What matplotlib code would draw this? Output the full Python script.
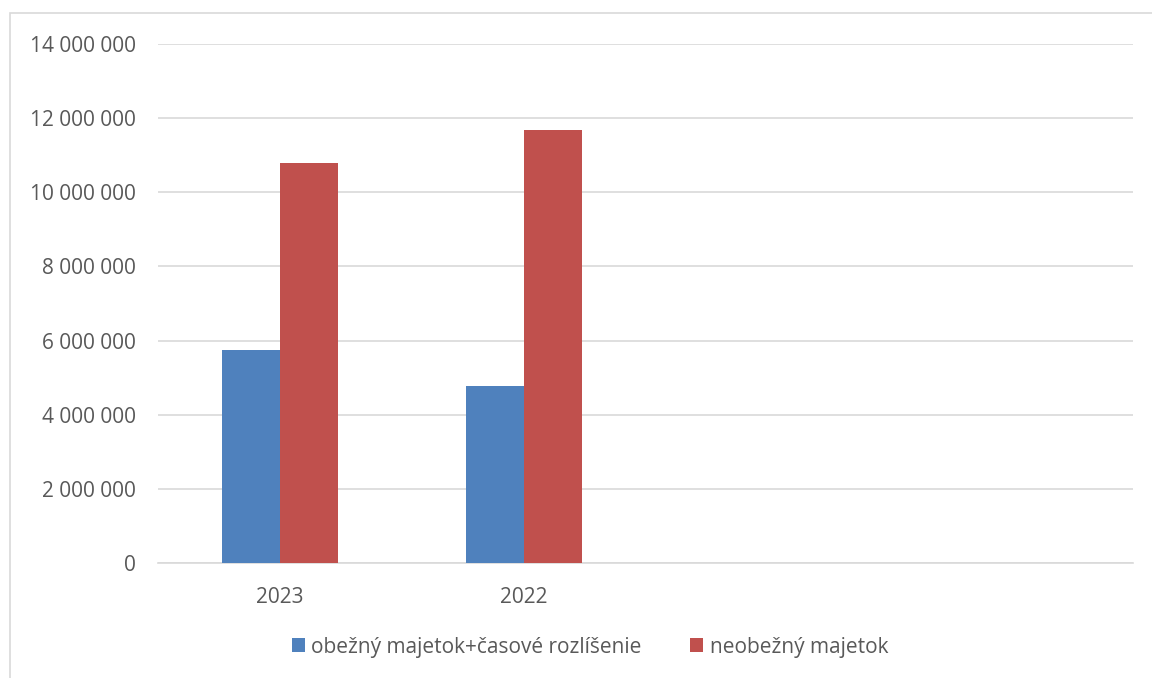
import matplotlib.pyplot as plt
from matplotlib.patches import Rectangle
import numpy as np

# chart data
categories = ['2023', '2022', '', '']
obezny = [5750000, 4780000, 0, 0]
neobezny = [10780000, 11670000, 0, 0]
series_names = ['obežný majetok+časové rozlíšenie', 'neobežný majetok']

plt.rcParams['font.family'] = ['Open Sans', 'DejaVu Sans']

W, H = 1152, 678
fig = plt.figure(figsize=(W / 100, H / 100), dpi=100)
ax = fig.add_axes([158 / W, 1 - 563 / H, 975 / W, (563 - 44) / H])

# outer chart border (right and bottom edges are clipped off in the original)
fig.patches.append(Rectangle((10 / W, -0.1), 1.2, 1 - 13 / H + 0.1,
                             transform=fig.transFigure, fill=False,
                             edgecolor='#d9d9d9', linewidth=1.2))

x = np.arange(len(categories))
bw = 0.238
ax.bar(x[:2] - bw / 2, obezny[:2], bw, color='#4f81bd', label=series_names[0], zorder=3)
ax.bar(x[:2] + bw / 2, neobezny[:2], bw, color='#c0504d', label=series_names[1], zorder=3)

ax.set_xlim(-0.5, 3.5)
ax.set_ylim(0, 14000000)
ax.set_yticks(range(0, 14000001, 2000000))
ax.yaxis.set_major_formatter(plt.FuncFormatter(lambda v, p: f'{int(v):,}'.replace(',', ' ')))
ax.set_xticks(x)
ax.set_xticklabels(categories)

ax.grid(axis='y', color='#d9d9d9', linewidth=1.2, zorder=0)
for s in ['top', 'right', 'left']:
    ax.spines[s].set_visible(False)
ax.spines['bottom'].set_color('#d9d9d9')
ax.spines['bottom'].set_linewidth(1.2)
ax.tick_params(length=0, labelsize=15, labelcolor='#595959')
ax.tick_params(axis='y', pad=16)
ax.tick_params(axis='x', pad=17)

fig.legend(loc='center', bbox_to_anchor=(590 / W, 1 - 647 / H), ncol=2, frameon=False,
           fontsize=15, labelcolor='#595959', handlelength=0.62, handleheight=0.62,
           handletextpad=0.3, columnspacing=2.35)

fig.savefig('out.png', dpi=100)
